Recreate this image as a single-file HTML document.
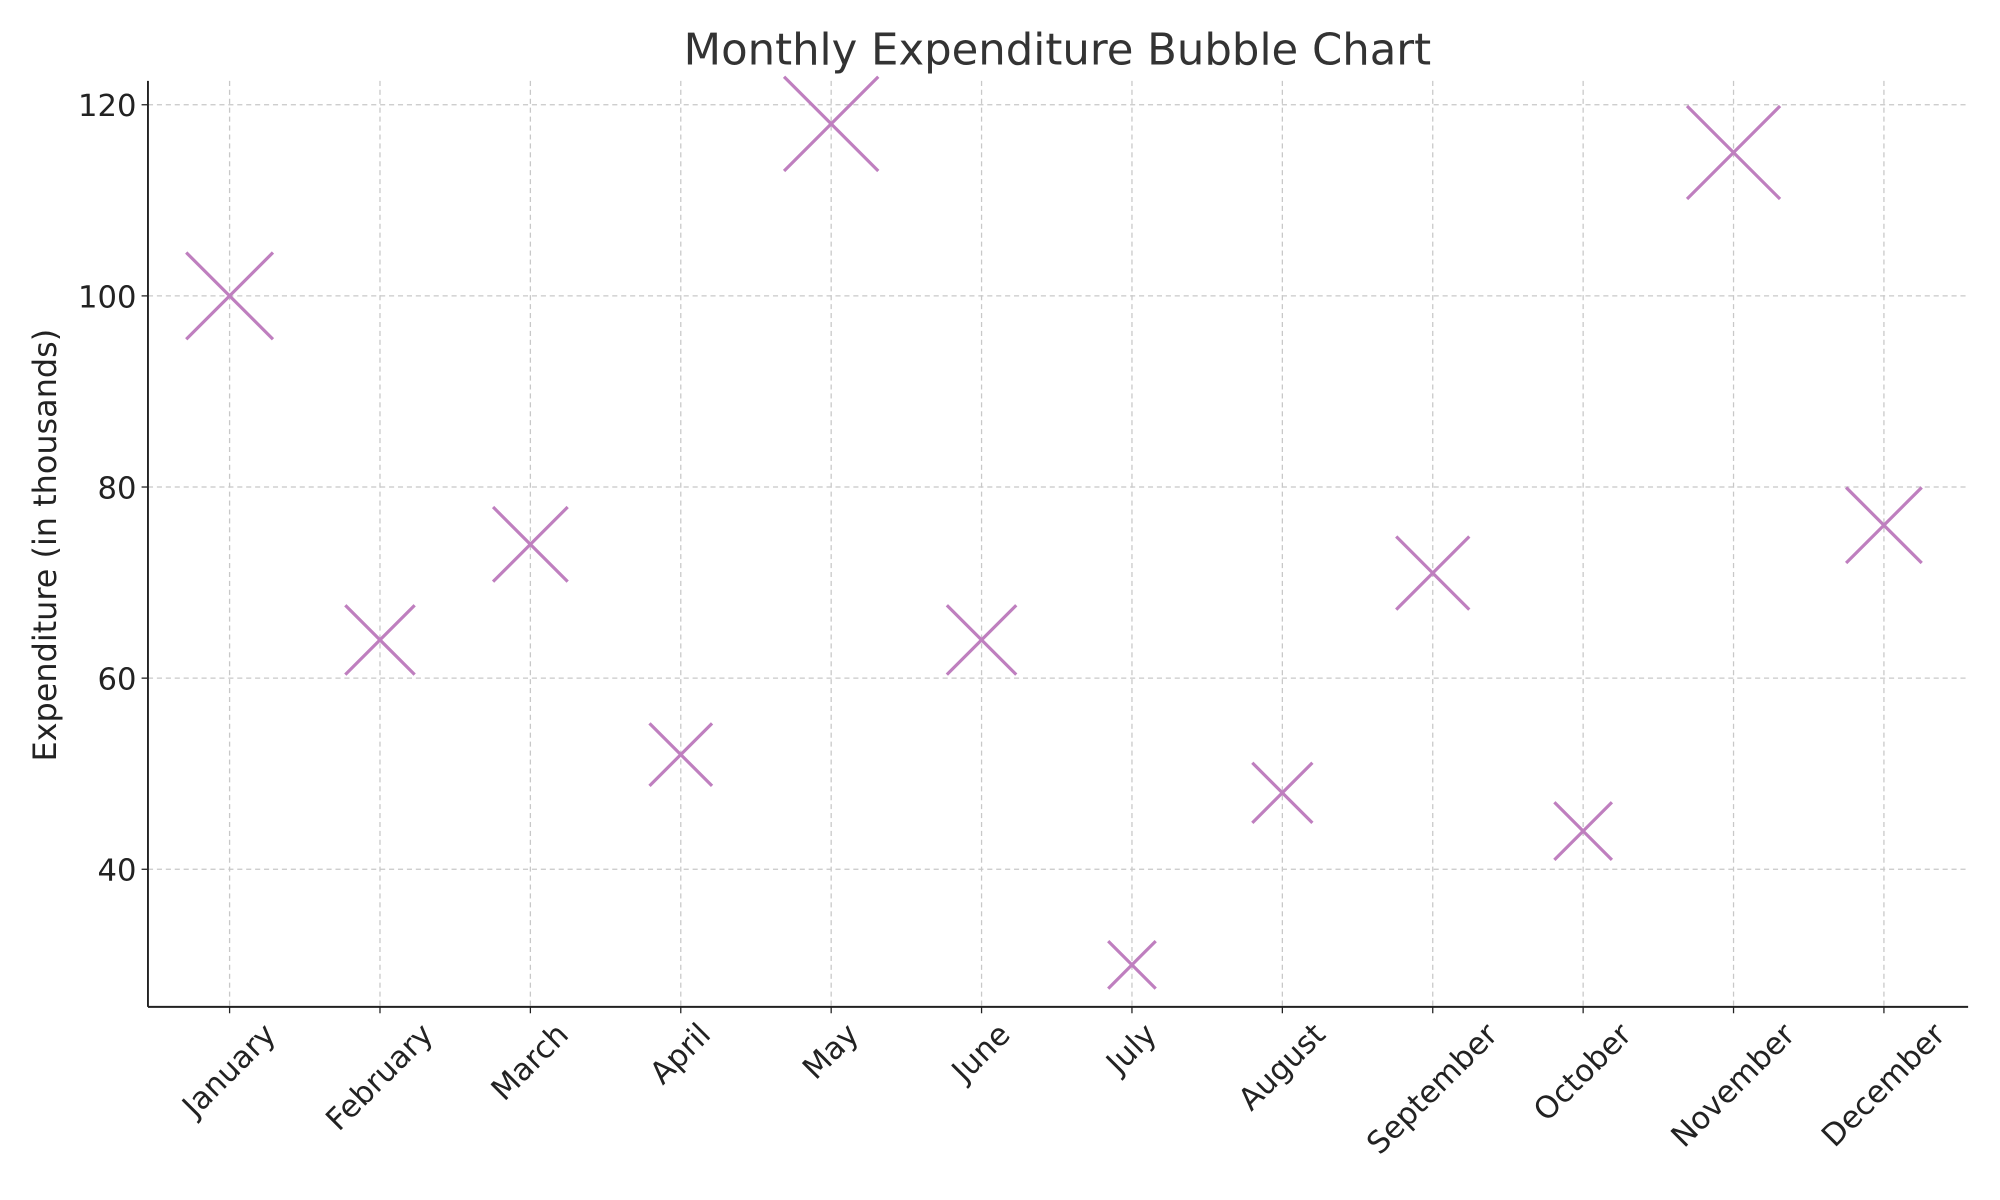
<!DOCTYPE html>
<html><head><meta charset="utf-8"><style>
html,body{margin:0;padding:0;background:#fff}
svg{display:block;font-family:"DejaVu Sans","Liberation Sans",sans-serif}
</style></head><body>
<svg id="chart" width="2000" height="1200" viewBox="0 0 1568 940" xmlns="http://www.w3.org/2000/svg">
<rect width="1568" height="940" fill="#fff"/>
<text x="829" y="50" text-anchor="middle" font-size="34" fill="#333">Monthly Expenditure Bubble Chart</text>
<text transform="translate(44,427) rotate(-90)" text-anchor="middle" font-size="25" fill="#222">Expenditure (in thousands)</text>
<g id="grid"></g><g id="marks"></g><g id="axes"></g>
</svg>
<script>
const categories=["January","February","March","April","May","June","July","August","September","October","November","December"];
const values=[100,64,74,52,118,64,30,48,71,44,115,76];
const yTicks=[40,60,80,100,120];
const NS="http://www.w3.org/2000/svg";
const L=116,R=1543,T=63,B=789;
const yMin=25.6,yMax=122.5;
function yScale(v){return B-(v-yMin)/(yMax-yMin)*(B-T);}
function xScale(i){return 180+i*(1477-180)/(categories.length-1);}
function mk(tag,attrs,parent){const e=document.createElementNS(NS,tag);for(const k in attrs)e.setAttribute(k,attrs[k]);parent.appendChild(e);return e;}
const grid=document.getElementById('grid'),marks=document.getElementById('marks'),axes=document.getElementById('axes');
yTicks.forEach(t=>{
  const y=yScale(t);
  const g=mk('line',{x1:L,x2:R,y1:y,y2:y,stroke:'#c8c8c8','stroke-width':1,'stroke-dasharray':'4,3'},grid);
  
  
  mk('line',{x1:L-5,x2:L,y1:y,y2:y,stroke:'#222','stroke-width':1},axes);
  const tx=mk('text',{x:L-9,y:y+9,'text-anchor':'end','font-size':24,fill:'#222'},axes);
  tx.textContent=t;
  
  
});
categories.forEach((c,i)=>{
  const x=xScale(i);
  const g=mk('line',{x1:x,x2:x,y1:T,y2:B,stroke:'#c8c8c8','stroke-width':1,'stroke-dasharray':'4,3'},grid);
  
  
  mk('line',{x1:x,x2:x,y1:B,y2:B+5,stroke:'#222','stroke-width':1},axes);
  const tx=mk('text',{'text-anchor':'middle','dominant-baseline':'central','font-size':24,fill:'#222'},axes);
  tx.textContent=c;
  
  
  const len=tx.getComputedTextLength();
  const half=(len+22)*0.7071/2;
  tx.setAttribute('transform',`translate(${x},${B+10+half}) rotate(-45)`);
  const v=values[i],cx=x,cy=yScale(v),h=3.4*Math.sqrt(v);
  const m=mk('path',{d:`M${cx-h},${cy-h}L${cx+h},${cy+h}M${cx-h},${cy+h}L${cx+h},${cy-h}`,stroke:'#bf7fbf','stroke-width':2.5,fill:'none'},marks);
  
  
});
const ax1=mk('line',{x1:L,x2:L,y1:T,y2:B,stroke:'#222','stroke-width':1.5},axes);


const ax2=mk('line',{x1:L,x2:R,y1:B,y2:B,stroke:'#222','stroke-width':1.5},axes);


</script>
</body></html>
